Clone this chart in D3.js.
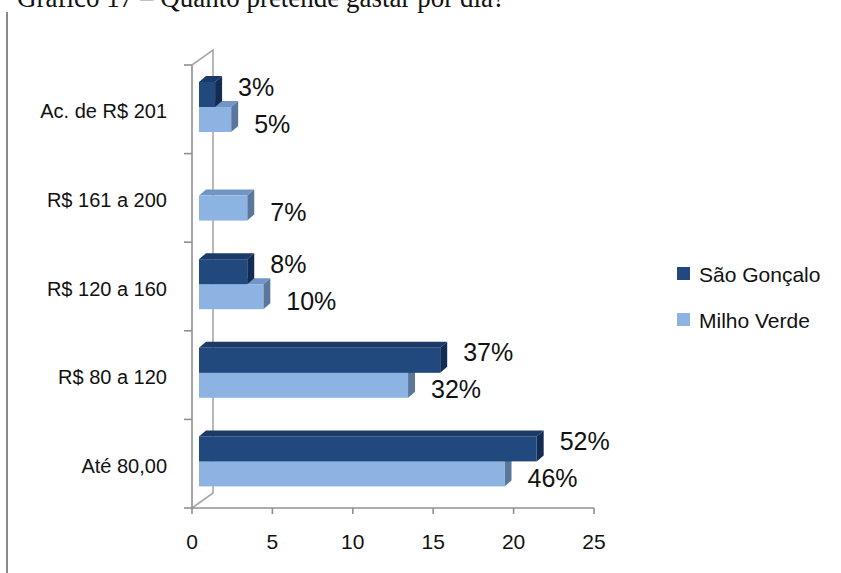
<!DOCTYPE html>
<html>
<head>
<meta charset="utf-8">
<script src="https://cdn.jsdelivr.net/npm/d3@7"></script>
<style>
  html, body { margin: 0; padding: 0; background: #fff; }
  svg { display: block; }
  text { font-family: "Liberation Sans", Arial, sans-serif; fill: #111; }
</style>
</head>
<body>
<svg id="chart" width="841" height="573"></svg>
<script>
// ---- data ----
const titleText = "Gráfico 17 – Quanto pretende gastar por dia?";
const categories = ["Ac. de R$ 201", "R$ 161 a 200", "R$ 120 a 160", "R$ 80 a 120", "Até 80,00"];
const seriesNames = ["São Gonçalo", "Milho Verde"];
const saoGoncalo = [1, 0, 3, 15, 21];
const milhoVerde = [2, 3, 4, 13, 19];
const saoGoncaloLabels = ["3%", "", "8%", "37%", "52%"];
const milhoVerdeLabels = ["5%", "7%", "10%", "32%", "46%"];
const xTicks = [0, 5, 10, 15, 20, 25];
const colors = {
  "São Gonçalo": { front: "#21497e", top: "#1a3b68", side: "#132d52" },
  "Milho Verde": { front: "#8db3e2", top: "#7196c6", side: "#5b769b" }
};

// ---- layout ----
const svg = d3.select("#chart");
const x = d3.scaleLinear().domain([0, 25]).range([192, 594]);
const y = d3.scaleBand().domain(categories).range([65, 508]);
const depth = { dx: 21, dy: -15 };      // back wall offset
const barShift = { dx: 7, dy: -6 };     // bar front-face offset / bar depth
const barH = 25;
const barTopOffset = 23;

// Title (clipped at top, as in the reference)
svg.append("text")
  .attr("x", 17).attr("y", 7)
  .attr("textLength", 488).attr("lengthAdjust", "spacingAndGlyphs")
  .style("font-family", "'Liberation Serif', 'Times New Roman', serif")
  .style("font-size", "30px")
  .text(titleText);

// Left page rule
svg.append("line")
  .attr("x1", 7).attr("x2", 7).attr("y1", 12).attr("y2", 573)
  .attr("stroke", "#8a8a8a").attr("stroke-width", 2);

const axisColor = "#8f8f8f";
const x0 = x(0), yTop = y.range()[0], yBot = y.range()[1];

// back wall outline
const wall = svg.append("g").attr("stroke", "#a8a8a8").attr("stroke-width", 1.6).attr("fill", "none");
wall.append("path").attr("d",
  `M${x0},${yTop} L${x0 + depth.dx},${yTop + depth.dy} L${x0 + depth.dx},${yBot + depth.dy} L${x0},${yBot}`);

// bars
const rows = categories.map((c, i) => ({
  cat: c,
  bars: [
    { s: "Milho Verde", v: milhoVerde[i], lab: milhoVerdeLabels[i], idx: 1 },
    { s: "São Gonçalo", v: saoGoncalo[i], lab: saoGoncaloLabels[i], idx: 0 }
  ]
}));

const barsG = svg.append("g");
rows.forEach(r => {
  r.bars.forEach(b => {
    if (b.v <= 0) return;
    const fx0 = x(0) + barShift.dx;
    const fx1 = x(b.v) + barShift.dx;
    const fy0 = y(r.cat) + barTopOffset + barShift.dy + b.idx * barH;
    const fy1 = fy0 + barH;
    const c = colors[b.s];
    const g = barsG.append("g");
    g.append("path")
      .attr("d", `M${fx0},${fy0} L${fx0 + barShift.dx},${fy0 + barShift.dy} L${fx1 + barShift.dx},${fy0 + barShift.dy} L${fx1},${fy0} Z`)
      .attr("fill", c.top);
    g.append("path")
      .attr("d", `M${fx1},${fy0} L${fx1 + barShift.dx},${fy0 + barShift.dy} L${fx1 + barShift.dx},${fy1 + barShift.dy} L${fx1},${fy1} Z`)
      .attr("fill", c.side);
    g.append("rect")
      .attr("x", fx0).attr("y", fy0)
      .attr("width", fx1 - fx0).attr("height", barH)
      .attr("fill", c.front);
  });
});

// labels
const labG = svg.append("g");
rows.forEach(r => {
  r.bars.forEach(b => {
    if (!b.lab) return;
    const fy0 = y(r.cat) + barTopOffset + barShift.dy + b.idx * barH;
    const cy = fy0 + barH / 2 + (b.idx === 0 ? -8 : 4);
    labG.append("text")
      .attr("x", x(b.v) + barShift.dx + 23)
      .attr("y", cy)
      .attr("dominant-baseline", "central")
      .style("font-size", "25px")
      .text(b.lab);
  });
});

// front axes
const axG = svg.append("g").attr("stroke", axisColor).attr("stroke-width", 1.6);
axG.append("line").attr("x1", x0).attr("x2", x0).attr("y1", yTop).attr("y2", yBot);
axG.append("line").attr("x1", x0).attr("x2", x(25)).attr("y1", yBot).attr("y2", yBot);
const bounds = categories.map(c => y(c)).concat([yBot]);
bounds.forEach(b => {
  axG.append("line").attr("x1", x0 - 8).attr("x2", x0).attr("y1", b).attr("y2", b);
});
xTicks.forEach(t => {
  axG.append("line").attr("x1", x(t)).attr("x2", x(t)).attr("y1", yBot).attr("y2", yBot + 6);
});

// category labels
svg.append("g").selectAll("text").data(categories).join("text")
  .attr("x", 167)
  .attr("y", d => y(d) + y.bandwidth() / 2 + 2)
  .attr("text-anchor", "end")
  .attr("dominant-baseline", "central")
  .style("font-size", "20px")
  .text(d => d);

// x tick labels
svg.append("g").selectAll("text").data(xTicks).join("text")
  .attr("x", d => x(d))
  .attr("y", 549)
  .attr("text-anchor", "middle")
  .style("font-size", "21px")
  .text(d => d);

// legend
const leg = svg.append("g");
seriesNames.forEach((s, i) => {
  const ly = 274 + i * 46;
  leg.append("rect").attr("x", 677).attr("y", ly - 7).attr("width", 13).attr("height", 13)
    .attr("fill", colors[s].front);
  leg.append("text").attr("x", 699).attr("y", ly)
    .attr("dominant-baseline", "central")
    .style("font-size", "21px")
    .text(s);
});
</script>
</body>
</html>
